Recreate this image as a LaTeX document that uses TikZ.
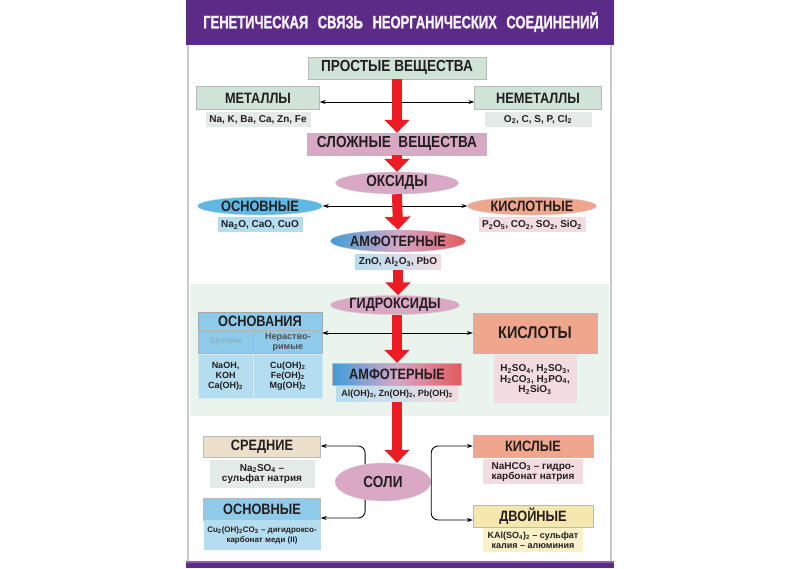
\documentclass[tikz,border=0pt]{standalone}
\usepackage{fontspec}
\setmainfont{Liberation Sans}
\newfontfamily\condfont[FakeStretch=0.85]{Liberation Sans}
\newfontfamily\titlefont[FakeStretch=0.72, FakeBold=1.2]{Liberation Sans}
\usetikzlibrary{positioning, shapes.geometric, arrows.meta}

\definecolor{posterpurple}{HTML}{5C2A87}
\definecolor{posterlilac}{HTML}{8A62AE}
\definecolor{frameline}{HTML}{C9C9C9}
\definecolor{hydroband}{HTML}{E8F4EC}
\definecolor{inktext}{HTML}{231F20}
\definecolor{arrowred}{HTML}{EC1C24}
\definecolor{simplegreen}{HTML}{CFE3D6}
\definecolor{greysub}{HTML}{E4EAE7}
\definecolor{mauve}{HTML}{D9A8C5}
\definecolor{skyblue}{HTML}{5DB9E4}
\definecolor{paleblue}{HTML}{B4DDF0}
\definecolor{basehead}{HTML}{8ECBEA}
\definecolor{salmon}{HTML}{F0A68D}
\definecolor{palepink}{HTML}{F3DCE1}
\definecolor{beige}{HTML}{EDE0CB}
\definecolor{butter}{HTML}{F6E7AE}
\definecolor{palebutter}{HTML}{FAF1C8}
\definecolor{amphblue}{HTML}{3F9DD8}
\definecolor{amphpink}{HTML}{D6A7C9}
\definecolor{amphred}{HTML}{E35A5C}

\tikzset{
  labelbox/.style={rectangle, draw=gray!55, inner sep=0pt, text=inktext,
    font=\condfont\bfseries\fontsize{15}{16}\selectfont},
  labeloval/.style={ellipse, draw=gray!35, inner sep=0pt, text=inktext,
    font=\condfont\bfseries\fontsize{15}{16}\selectfont},
  subbox/.style={rectangle, inner sep=1pt, align=center, text=inktext,
    font=\bfseries\fontsize{10}{10.5}\selectfont},
  cellbox/.style={rectangle, inner sep=0pt, align=center, anchor=north west,
    font=\bfseries\fontsize{9}{10}\selectfont},
  redarrow/.style={draw=arrowred, line width=10pt, -{Triangle[length=13pt, width=25pt]}},
  twoway/.style={{Stealth[length=6pt, width=4pt]}-{Stealth[length=6pt, width=4pt]}, line width=0.9pt},
  branch/.style={-{Stealth[length=6pt, width=4pt]}, line width=0.9pt, rounded corners=7pt}
}

\begin{document}
\begin{tikzpicture}[x=1pt, y=-1pt]
    % Page and poster frame
    \useasboundingbox (0,0) rectangle (800,568);
    \fill[white] (0,0) rectangle (800,568);
    \fill[posterpurple] (186,0) rectangle (614,45);
    \fill[hydroband] (190,284) rectangle (609,416);
    \draw[frameline, line width=2pt] (188,45) -- (188,562);
    \draw[frameline, line width=2pt] (611,45) -- (611,562);
    \fill[posterlilac] (186,561) rectangle (614,563);
    \fill[posterpurple] (186,563) rectangle (614,568);

    % Title
    \node[text=white!90!gray, font=\titlefont\bfseries\fontsize{18}{18}\selectfont] (title) at (401,22)
        {ГЕНЕТИЧЕСКАЯ\hspace{6pt} СВЯЗЬ\hspace{6pt} НЕОРГАНИЧЕСКИХ\hspace{6pt} СОЕДИНЕНИЙ};

    % Simple substances
    \node[labelbox, fill=simplegreen, minimum width=178, minimum height=22,
          font=\condfont\bfseries\fontsize{16}{17}\selectfont] (simple) at (397,68) {ПРОСТЫЕ ВЕЩЕСТВА};
    \node[labelbox, fill=simplegreen, minimum width=123, minimum height=23] (metals) at (258,98) {МЕТАЛЛЫ};
    \node[subbox, fill=greysub, minimum width=105, minimum height=15, below=2pt of metals] (metalsub)
        {Na, K, Ba, Ca, Zn, Fe};
    \node[labelbox, fill=simplegreen, minimum width=127, minimum height=23] (nonmetals) at (538,98) {НЕМЕТАЛЛЫ};
    \node[subbox, fill=greysub, minimum width=107, minimum height=15, below=2pt of nonmetals] (nonmetalsub)
        {O\textsubscript{2}, C, S, P, Cl\textsubscript{2}};

    % Complex substances
    \node[labelbox, fill=mauve, minimum width=179, minimum height=22,
          font=\condfont\bfseries\fontsize{16}{17}\selectfont] (complex) at (397,144) {СЛОЖНЫЕ\ \ ВЕЩЕСТВА};

    % Oxides
    \node[labeloval, fill=mauve, minimum width=123, minimum height=22,
          font=\condfont\bfseries\fontsize{16}{17}\selectfont] (oxides) at (397,183) {ОКСИДЫ};
    \node[labeloval, fill=skyblue, minimum width=125, minimum height=18] (basox) at (260,206) {ОСНОВНЫЕ};
    \node[subbox, fill=paleblue, minimum width=85, minimum height=15, below=2pt of basox] (basoxsub)
        {Na\textsubscript{2}O, CaO, CuO};
    \node[labeloval, fill=salmon, minimum width=129, minimum height=18] (acidox) at (532,206) {КИСЛОТНЫЕ};
    \node[subbox, fill=palepink, minimum width=107, minimum height=15, below=2pt of acidox] (acidoxsub)
        {P\textsubscript{2}O\textsubscript{5}, CO\textsubscript{2}, SO\textsubscript{2}, SiO\textsubscript{2}};
    \node[labeloval, left color=amphblue, right color=amphred, middle color=amphpink,
          minimum width=127, minimum height=22] (amphox) at (398,241) {АМФОТЕРНЫЕ};
    \node[subbox, left color=paleblue, right color=palepink, minimum width=86, minimum height=15,
          below=2pt of amphox] (amphoxsub) {ZnO, Al\textsubscript{2}O\textsubscript{3}, PbO};

    % Hydroxides
    \node[labeloval, fill=mauve, minimum width=115, minimum height=17] (hydrox) at (395,305) {ГИДРОКСИДЫ};
    \node[labelbox, fill=basehead, draw=gray!70, minimum width=124, minimum height=18] (bases) at (260,321) {ОСНОВАНИЯ};
    \node[cellbox, fill=basehead, draw=gray!60, minimum width=55, minimum height=23, text=gray!45!basehead,
          font=\fontsize{8.5}{9.5}\selectfont] (alkali) at (bases.south west) {Щелочи};
    \node[cellbox, fill=basehead, draw=gray!60, minimum width=69, minimum height=23, text=inktext!80] (insoluble)
        at (alkali.north east) {Нераство-\\римые};
    \node[cellbox, fill=paleblue, draw=paleblue!60!white, minimum width=55, minimum height=44, text=inktext] (alkalisub)
        at (alkali.south west) {NaOH,\\KOH\\Ca(OH)\textsubscript{2}};
    \node[cellbox, fill=paleblue, draw=paleblue!60!white, minimum width=69, minimum height=44, text=inktext] (insolublesub)
        at (alkalisub.north east) {Cu(OH)\textsubscript{2}\\Fe(OH)\textsubscript{2}\\Mg(OH)\textsubscript{2}};
    \node[labelbox, fill=salmon, minimum width=124, minimum height=40,
          font=\condfont\bfseries\fontsize{17}{18}\selectfont] (acids) at (535,333) {КИСЛОТЫ};
    \node[subbox, fill=palepink, minimum width=83, minimum height=48, below=2pt of acids] (acidsub)
        {H\textsubscript{2}SO\textsubscript{4}, H\textsubscript{2}SO\textsubscript{3},\\
         H\textsubscript{2}CO\textsubscript{3}, H\textsubscript{3}PO\textsubscript{4},\\
         H\textsubscript{2}SiO\textsubscript{3}};
    \node[labelbox, left color=amphblue, right color=amphred, middle color=amphpink,
          minimum width=129, minimum height=22] (amphhyd) at (397,374) {АМФОТЕРНЫЕ};
    \node[subbox, left color=paleblue, right color=palepink, minimum width=122, minimum height=15,
          font=\bfseries\fontsize{9}{10}\selectfont, below=1pt of amphhyd] (amphhydsub)
        {Al(OH)\textsubscript{3}, Zn(OH)\textsubscript{2}, Pb(OH)\textsubscript{2}};

    % Salts
    \node[labeloval, fill=mauve, minimum width=96, minimum height=38,
          font=\condfont\bfseries\fontsize{16}{17}\selectfont] (salts) at (383,482) {СОЛИ};
    \node[labelbox, fill=beige, minimum width=117, minimum height=21] (neutral) at (262,447) {СРЕДНИЕ};
    \node[subbox, fill=greysub, minimum width=105, minimum height=28, below=2pt of neutral] (neutralsub)
        {Na\textsubscript{2}SO\textsubscript{4} –\\сульфат натрия};
    \node[labelbox, fill=basehead, minimum width=117, minimum height=22] (basic) at (262,509) {ОСНОВНЫЕ};
    \node[subbox, fill=paleblue, minimum width=117, minimum height=30, below=0pt of basic,
          font=\bfseries\fontsize{8}{10}\selectfont] (basicsub)
        {Cu\textsubscript{2}(OH)\textsubscript{2}CO\textsubscript{3} – дигидроксо-\\карбонат меди (II)};
    \node[labelbox, fill=salmon, minimum width=120, minimum height=22] (acidic) at (533,446) {КИСЛЫЕ};
    \node[subbox, fill=palepink, minimum width=100, minimum height=25, below=2pt of acidic] (acidicsub)
        {NaHCO\textsubscript{3} – гидро-\\карбонат натрия};
    \node[labelbox, fill=butter, minimum width=120, minimum height=22] (double) at (533,516) {ДВОЙНЫЕ};
    \node[subbox, fill=palebutter, minimum width=100, minimum height=24, below=1pt of double,
          font=\bfseries\fontsize{9}{10}\selectfont] (doublesub)
        {KAl(SO\textsubscript{4})\textsubscript{2} – сульфат\\калия – алюминия};

    % Two-way links between the side groups
    \draw[twoway] ([yshift=-4pt]metals.east) -- ([yshift=-4pt]nonmetals.west);
    \draw[twoway] (basox.east) -- (acidox.west);
    \draw[twoway] (acids.west -| bases.east) -- (acids.west);

    % Branches of the salts
    \draw[branch] (salts.135) |- ([yshift=1pt]neutral.east);
    \draw[branch] (salts.-135) |- ([yshift=-9pt]basic.east);
    \draw[branch] (salts.east) |- (acidic.west);
    \draw[branch] (salts.east) |- ([yshift=-4pt]double.west);

    % Main red chain
    \draw[redarrow] (simple.south) -- (complex.north);
    \draw[redarrow] (complex.south) -- (oxides.north);
    \draw[redarrow] (oxides.south) -- (amphox.north);
    \draw[redarrow] (amphoxsub.south -| amphox.south) -- (amphox.south |- hydrox.north);
    \draw[redarrow] (hydrox.south -| amphhyd.north) -- (amphhyd.north);
    \draw[redarrow] (amphhydsub.south -| amphhyd.south) -- (amphhyd.south |- salts.north);
\end{tikzpicture}
\end{document}
